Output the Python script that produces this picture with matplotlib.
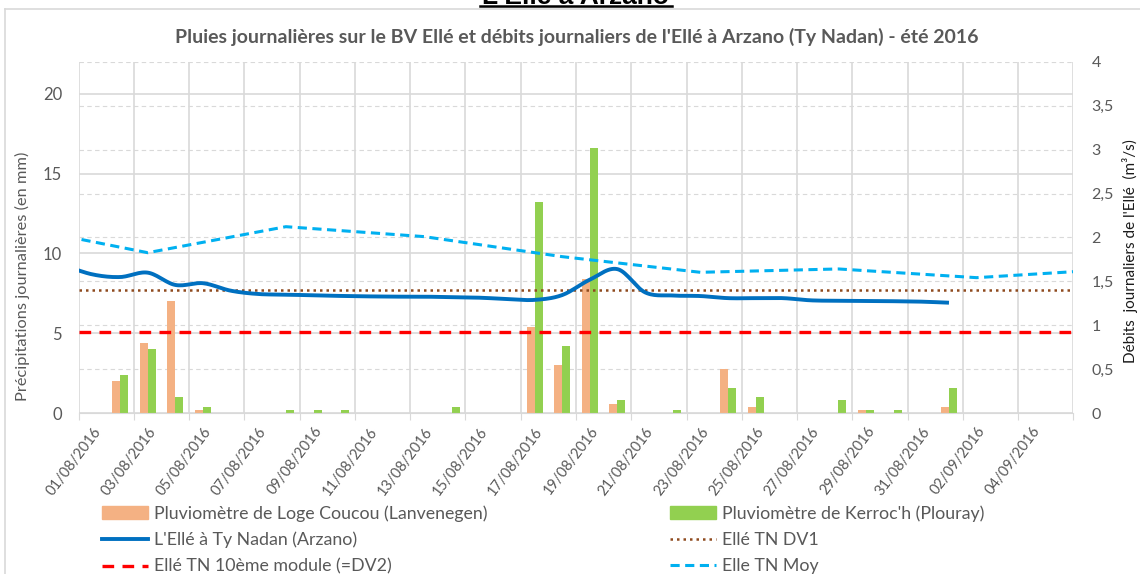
import matplotlib

matplotlib.use("Agg")
import matplotlib.pyplot as plt
import numpy as np
import pandas as pd
from matplotlib.lines import Line2D
from matplotlib.patches import Patch

plt.rcParams["font.family"] = ["Lato", "DejaVu Sans"]

# --- data ---
start = pd.Timestamp("2016-08-01")
days = pd.date_range("2016-08-01", "2016-09-05", freq="D")

# daily rain (mm), one value per day of `days`
rain_loge_coucou = [0, 2.0, 4.4, 7.0, 0.2, 0, 0, 0, 0, 0, 0, 0, 0, 0, 0, 0,
                    5.4, 3.0, 8.4, 0.6, 0, 0, 0, 2.8, 0.4, 0, 0, 0, 0.2, 0, 0, 0.4,
                    0, 0, 0, 0]
rain_kerroch = [0, 2.4, 4.0, 1.0, 0.4, 0, 0, 0.2, 0.2, 0.2, 0, 0, 0, 0.4, 0, 0,
                13.2, 4.2, 16.6, 0.8, 0, 0.2, 0, 1.6, 1.0, 0, 0, 0.8, 0.2, 0.2, 0, 1.6,
                0, 0, 0, 0]

# daily flow at Ty Nadan (m3/s), 31/07 -> 01/09
flow_dates = pd.date_range("2016-07-31", "2016-09-01", freq="D")
flow_arzano = [1.68, 1.58, 1.55, 1.60, 1.46, 1.48, 1.395, 1.357, 1.35, 1.342, 1.335,
               1.33, 1.327, 1.327, 1.32, 1.315, 1.30, 1.29, 1.345, 1.52, 1.64, 1.376,
               1.34, 1.334, 1.31, 1.31, 1.31, 1.285, 1.28, 1.278, 1.275, 1.27, 1.258]

# mean flow reference, 5-day points
moy_dates = pd.to_datetime(["2016-07-29", "2016-08-03", "2016-08-08", "2016-08-13",
                            "2016-08-18", "2016-08-23", "2016-08-28", "2016-09-02",
                            "2016-09-07"])
moy_flow = [2.14, 1.827, 2.123, 2.01, 1.782, 1.604, 1.642, 1.543, 1.64]

dv1 = 1.40
dv2 = 0.93

GRID = "#D9D9D9"
TEXT = "#595959"


def day_index(dates):
    return np.asarray((dates - start).days, dtype=float)


def smooth(x, y, n=16):
    # Excel-like smoothed line: cubic Bezier through each point
    x = np.asarray(x, float)
    y = np.asarray(y, float)
    px = np.concatenate([[x[0]], x, [x[-1]]])
    py = np.concatenate([[y[0]], y, [y[-1]]])
    t = np.linspace(0, 1, n)[:, None]
    xs, ys = [], []
    for i in range(1, len(px) - 2):
        p0 = np.array([px[i], py[i]])
        p3 = np.array([px[i + 1], py[i + 1]])
        c1 = p0 + (p3 - np.array([px[i - 1], py[i - 1]])) / 6
        c2 = p3 - (np.array([px[i + 2], py[i + 2]]) - p0) / 6
        pts = (1 - t) ** 3 * p0 + 3 * (1 - t) ** 2 * t * c1 + 3 * (1 - t) * t ** 2 * c2 + t ** 3 * p3
        xs.append(pts[:, 0])
        ys.append(pts[:, 1])
    return np.concatenate(xs), np.concatenate(ys)


fig = plt.figure(figsize=(11.4, 5.74), dpi=100)
ax = fig.add_axes([0.069, 0.28, 0.8725, 0.6125])

x = day_index(days)
w = 0.29
ax.bar(x - w / 2, rain_loge_coucou, w, color="#F4B183", zorder=2)
ax.bar(x + w / 2, rain_kerroch, w, color="#92D050", zorder=2)

ax.set_xlim(-0.5, len(days) - 0.5)
ax.set_ylim(0, 22)
ax.set_yticks([0, 5, 10, 15, 20])
# secondary-axis gridlines drawn behind the bars
ax.set_yticks(np.arange(0, 4.01, 0.5) * 22 / 4, minor=True)
ax.grid(which="major", axis="both", color=GRID, lw=1.2, zorder=0)
ax.grid(which="minor", axis="y", color=GRID, lw=0.8, ls=(0, (4, 3)), zorder=0)
ax.set_axisbelow(True)

ax.set_xticks(np.arange(-0.5, len(days), 2))
ax.set_xticklabels([])
ax.set_xticks(x[::2], minor=True)
ax.set_xticklabels([d.strftime("%d/%m/%Y") for d in days[::2]], minor=True,
                   rotation=53, ha="right", va="top", rotation_mode="anchor",
                   fontsize=10.5, color=TEXT)
ax.tick_params(axis="x", which="major", length=5, color=GRID)
ax.tick_params(axis="x", which="minor", length=0, pad=8)
ax.tick_params(axis="y", which="both", length=0, labelsize=12, labelcolor=TEXT, pad=12)
for s in ["top", "left", "right"]:
    ax.spines[s].set_visible(False)
ax.spines["bottom"].set_color(GRID)
ax.set_ylabel("Précipitations journalières (en mm)", fontsize=11.8, color=TEXT)
ax.yaxis.set_label_coords(-0.049, 0.39)

ax2 = ax.twinx()
ax2.set_ylim(0, 4)
ticks2 = np.arange(0, 4.01, 0.5)
ax2.set_yticks(ticks2)
ax2.set_yticklabels([f"{v:g}".replace(".", ",") for v in ticks2])
ax2.tick_params(axis="y", length=0, labelsize=11.5, labelcolor=TEXT, pad=13)
for s in ax2.spines.values():
    s.set_visible(False)
ax2.set_ylabel("Débits  journaliers de l'Ellé  (m³/s)", fontsize=11, color="#1a1a1a")
ax2.yaxis.set_label_coords(1.049, 0.462)

ax2.axhline(dv1, color="#8F4A1E", lw=1.8, ls=(0, (1, 1.6)))
ax2.axhline(dv2, color="#FF0000", lw=2.4, ls=(0, (3.5, 2.5)))
ax2.plot(day_index(moy_dates), moy_flow, color="#00B0F0", lw=2.2, ls=(0, (3, 1.8)))
fx, fy = smooth(day_index(flow_dates), flow_arzano)
ax2.plot(fx, fy, color="#0070C0", lw=2.8, solid_capstyle="butt")

fig.text(577 / 1140, 1 - 37 / 574, "Pluies journalières sur le BV Ellé et débits journaliers de l'Ellé à Arzano (Ty Nadan) - été 2016",
         ha="center", va="center", fontsize=14, fontweight="bold", color=TEXT)

# page heading cut by the screenshot, and the chart frame
fig.text(576 / 1140, 1 - 4 / 574, "L'Ellé à Arzano", ha="center", va="baseline",
         fontsize=19, fontweight="bold", family="Liberation Sans", color="black")
fig.add_artist(Line2D([480 / 1140, 672 / 1140], [1 - 6 / 574] * 2, color="black", lw=1.8))
fig.add_artist(Line2D([5 / 1140, 1], [1 - 9 / 574] * 2, color=GRID, lw=1.2))
fig.add_artist(Line2D([5 / 1140] * 2, [0, 1 - 9 / 574], color=GRID, lw=1.2))

col1 = [Patch(color="#F4B183"),
        Line2D([], [], color="#0070C0", lw=2.8),
        Line2D([], [], color="#FF0000", lw=2.4, ls=(0, (3.5, 2.5)))]
lab1 = ["Pluviomètre de Loge Coucou (Lanvenegen)", "L'Ellé à Ty Nadan (Arzano)",
        "Ellé TN 10ème module (=DV2)"]
col2 = [Patch(color="#92D050"),
        Line2D([], [], color="#8F4A1E", lw=1.8, ls=(0, (1, 1.6))),
        Line2D([], [], color="#00B0F0", lw=2.2, ls=(0, (3, 1.8)))]
lab2 = ["Pluviomètre de Kerroc'h (Plouray)", "Ellé TN DV1", "Elle TN Moy"]
for handles, labels, x0 in [(col1, lab1, 102), (col2, lab2, 670)]:
    fig.legend(handles, labels, loc="upper left", bbox_to_anchor=(x0 / 1140, 1 - 505 / 574),
               frameon=False, borderpad=0, borderaxespad=0, handlelength=2.6,
               handletextpad=0.35, labelspacing=0.58, fontsize=12.8, labelcolor=TEXT)

fig.savefig("out.png", dpi=100)
